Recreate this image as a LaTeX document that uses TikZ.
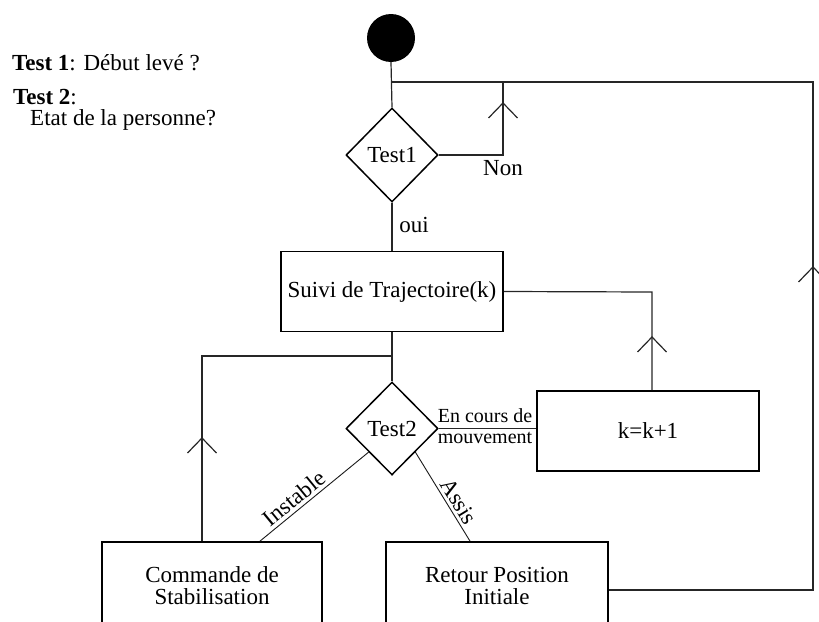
\documentclass[tikz,border=0pt]{standalone}
\usepackage{fontspec}
\setmainfont{Liberation Serif}
\usetikzlibrary{shapes.geometric}
\newcommand\fsA{\fontsize{23}{22}\selectfont}
\newcommand\fsB{\fontsize{20}{20}\selectfont}
\tikzset{
  box/.style={draw, line width=1.8pt, minimum width=222pt, minimum height=80pt, inner sep=0pt, font=\fsA, align=center},
  dia/.style={draw, diamond, line width=1.5pt, minimum width=92pt, minimum height=94pt, inner sep=0pt, font=\fsA},
  conn/.style={line width=1.2pt, draw=black!85},
  thinconn/.style={line width=0.9pt, draw=black!90},
  lab/.style={font=\fsA, inner sep=0pt},
  smalllab/.style={font=\fsB, inner sep=0pt},
  upv/.pic={\draw[line width=1.2pt, draw=black!85] (-14.5pt,-15pt) -- (0,0) -- (14.5pt,-15pt);}
}
\begin{document}
\begin{tikzpicture}[x=1pt,y=-1pt]
\useasboundingbox (0,0) rectangle (819,621);
% notes
\node[lab, anchor=west] (tt1) at (12,63) {\textbf{Test 1}: Début levé ?};
\node[lab, anchor=west] (tt2) at (13,97) {\textbf{Test 2}:};
\node[lab, anchor=west] (tt3) at (30,120) {Etat de la personne?};
% nodes
\node[circle, fill=black, minimum size=48pt, inner sep=0pt] (start) at (391,38) {};
\node[dia] (t1) at (392,155) {Test1};
\node[box] (suivi) at (392,291.5) {Suivi de Trajectoire(k)};
\node[dia, minimum height=93pt] (t2) at (392,428.5) {Test2};
\node[box] (k) at (648,431) {k=k+1};
\node[box, minimum width=220pt, minimum height=88pt] (cmd) at (212,586) {Commande de\\Stabilisation};
\node[box, minimum height=88pt] (ret) at (497,586) {Retour Position\\Initiale};
% coordinates
\coordinate (j1) at (392,82);
\coordinate (r1) at (813,82);
\coordinate (r2) at (813,590);
\coordinate (n1) at (503,156);
\coordinate (s1) at (652,292);
\coordinate (j2) at (392,356);
\coordinate (l1) at (202,356);
% connectors
\draw[conn] (start.south) -- (t1.north);
\draw[conn] (j1) -- (r1) -- (r2) -- (ret.east |- r2);
\draw[conn] (t1.east) -- (t1.east -| n1) -- (n1 |- j1);
\draw[conn] (t1.south) -- (suivi.north);
\draw[conn] (suivi.east) -- (s1) -- (s1 |- k.north);
\draw[conn] (suivi.south) -- (t2.north);
\draw[conn] (j2) -- (l1) -- (l1 |- cmd.north);
\draw[conn] (t2.east) -- (k.west |- t2.east);
\draw[thinconn] (t2.south west) -- node[lab, sloped, above=3pt, pos=0.62] (linst) {Instable} ([xshift=48pt]cmd.north);
\draw[thinconn] (t2.south east) -- node[lab, sloped, above=3pt, pos=0.62] (lassis) {Assis} ([xshift=-27pt]ret.north);
% arrowheads
\pic at (503,103) {upv};
\pic at (652,337) {upv};
\pic at (202,438) {upv};
\pic at (813,267) {upv};
% labels
\node[lab] (lnon) at (503,168) {Non};
\node[lab] (loui) at (414,225) {oui};
\node[smalllab] (lec) at (485,416) {En cours de};
\node[smalllab] (lmv) at (485,438) {mouvement};
\end{tikzpicture}
\end{document}
